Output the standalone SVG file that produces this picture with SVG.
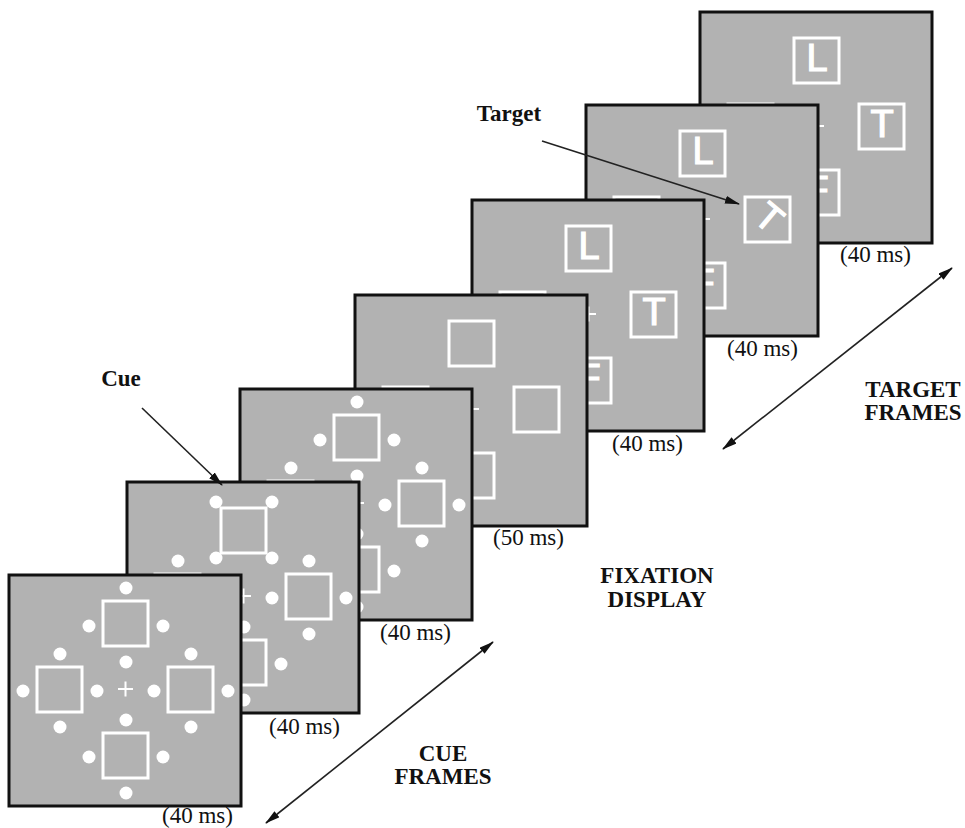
<svg xmlns="http://www.w3.org/2000/svg" xmlns:xlink="http://www.w3.org/1999/xlink" width="965" height="828" viewBox="0 0 965 828">
<style>
.frame{fill:#b2b2b2;stroke:#111;stroke-width:3}
.sq{fill:none;stroke:#fff;stroke-width:3}
.dot{fill:#fff}
.cross{stroke:#fff;stroke-width:2;fill:none}
.let{font-family:"Liberation Sans",Arial,sans-serif;font-size:38px;fill:#fff;stroke:#fff;stroke-width:1.2;text-anchor:middle}
.ms{font-family:"Liberation Serif","Times New Roman",serif;font-size:23px;fill:#111}
.lab{font-family:"Liberation Serif","Times New Roman",serif;font-size:23px;font-weight:bold;fill:#111;text-anchor:middle}
.arr{stroke:#222;stroke-width:1.6;fill:none}
</style>
<defs>
<marker id="ah" viewBox="0 0 15 8" refX="14" refY="4" markerWidth="15" markerHeight="8" markerUnits="userSpaceOnUse" orient="auto-start-reverse">
<path d="M0,0 L15,4 L0,8 z" fill="#111"/>
</marker>
<g id="squares">
<rect class="sq" x="94" y="26" width="45" height="45"/>
<rect class="sq" x="28" y="92" width="45" height="45"/>
<rect class="sq" x="159" y="92" width="45" height="45"/>
<rect class="sq" x="94" y="158" width="45" height="45"/>
<path class="cross" d="M109,114 H124 M116.5,106.5 V121.5"/>
</g>
<g id="dTop">
<circle class="dot" cx="117" cy="13" r="6.5"/>
<circle class="dot" cx="80" cy="51" r="6.5"/>
<circle class="dot" cx="154" cy="51" r="6.5"/>
<circle class="dot" cx="117" cy="87" r="6.5"/>
</g>
<g id="dOthers">
<circle class="dot" cx="51" cy="79" r="6.5"/>
<circle class="dot" cx="14" cy="116" r="6.5"/>
<circle class="dot" cx="88" cy="116" r="6.5"/>
<circle class="dot" cx="51" cy="152" r="6.5"/>
<circle class="dot" cx="182" cy="79" r="6.5"/>
<circle class="dot" cx="145" cy="116" r="6.5"/>
<circle class="dot" cx="219" cy="116" r="6.5"/>
<circle class="dot" cx="182" cy="152" r="6.5"/>
<circle class="dot" cx="117" cy="145" r="6.5"/>
<circle class="dot" cx="80" cy="182" r="6.5"/>
<circle class="dot" cx="154" cy="182" r="6.5"/>
<circle class="dot" cx="117" cy="218" r="6.5"/>
</g>
</defs>

<g id="frame7" transform="translate(700,12)">
<rect class="frame" x="0" y="0" width="232" height="231"/>
<use xlink:href="#squares"/>
<text class="let" x="117" y="59">L</text>
<text class="let" x="182" y="125">T</text>
<text class="let" x="117" y="191">F</text>
</g>

<g id="frame6" transform="translate(586,105)">
<rect class="frame" x="0" y="0" width="232" height="231"/>
<use xlink:href="#squares"/>
<text class="let" x="117" y="59">L</text>
<text class="let" x="182" y="125" transform="rotate(40 182 114)">T</text>
<text class="let" x="117" y="191">F</text>
</g>

<g id="frame5" transform="translate(472,200)">
<rect class="frame" x="0" y="0" width="232" height="231"/>
<use xlink:href="#squares"/>
<text class="let" x="117" y="59">L</text>
<text class="let" x="182" y="125">T</text>
<text class="let" x="117" y="191">F</text>
</g>

<g id="frame4" transform="translate(355,295)">
<rect class="frame" x="0" y="0" width="232" height="231"/>
<use xlink:href="#squares"/>
</g>

<g id="frame3" transform="translate(240,389)">
<rect class="frame" x="0" y="0" width="232" height="231"/>
<use xlink:href="#squares"/>
<use xlink:href="#dTop"/>
<use xlink:href="#dOthers"/>
</g>

<g id="frame2" transform="translate(127,482)">
<rect class="frame" x="0" y="0" width="232" height="231"/>
<use xlink:href="#squares"/>
<circle class="dot" cx="89" cy="20" r="6.5"/>
<circle class="dot" cx="145" cy="20" r="6.5"/>
<circle class="dot" cx="89" cy="76" r="6.5"/>
<circle class="dot" cx="145" cy="76" r="6.5"/>
<use xlink:href="#dOthers"/>
</g>

<g id="frame1" transform="translate(9,575)">
<rect class="frame" x="0" y="0" width="232" height="231"/>
<use xlink:href="#squares"/>
<use xlink:href="#dTop"/>
<use xlink:href="#dOthers"/>
</g>

<g id="durations">
<text class="ms" x="162" y="823">(40 ms)</text>
<text class="ms" x="269" y="734">(40 ms)</text>
<text class="ms" x="380" y="640">(40 ms)</text>
<text class="ms" x="493" y="545">(50 ms)</text>
<text class="ms" x="612" y="451">(40 ms)</text>
<text class="ms" x="727" y="356">(40 ms)</text>
<text class="ms" x="840" y="262">(40 ms)</text>
</g>

<g id="connectors">
<line class="arr" x1="142" y1="408" x2="222" y2="485" marker-end="url(#ah)"/>
<line class="arr" x1="542" y1="141" x2="739" y2="204" marker-end="url(#ah)"/>
<line class="arr" x1="723" y1="449" x2="952" y2="268" marker-start="url(#ah)" marker-end="url(#ah)"/>
<line class="arr" x1="266" y1="823" x2="493" y2="642" marker-start="url(#ah)" marker-end="url(#ah)"/>
</g>

<g id="labels">
<text class="lab" x="121" y="386">Cue</text>
<text class="lab" x="509" y="121">Target</text>
<text class="lab" x="913" y="397">TARGET</text>
<text class="lab" x="913" y="420">FRAMES</text>
<text class="lab" x="443" y="761">CUE</text>
<text class="lab" x="443" y="784">FRAMES</text>
<text class="lab" x="657" y="583">FIXATION</text>
<text class="lab" x="657" y="607">DISPLAY</text>
</g>
</svg>
